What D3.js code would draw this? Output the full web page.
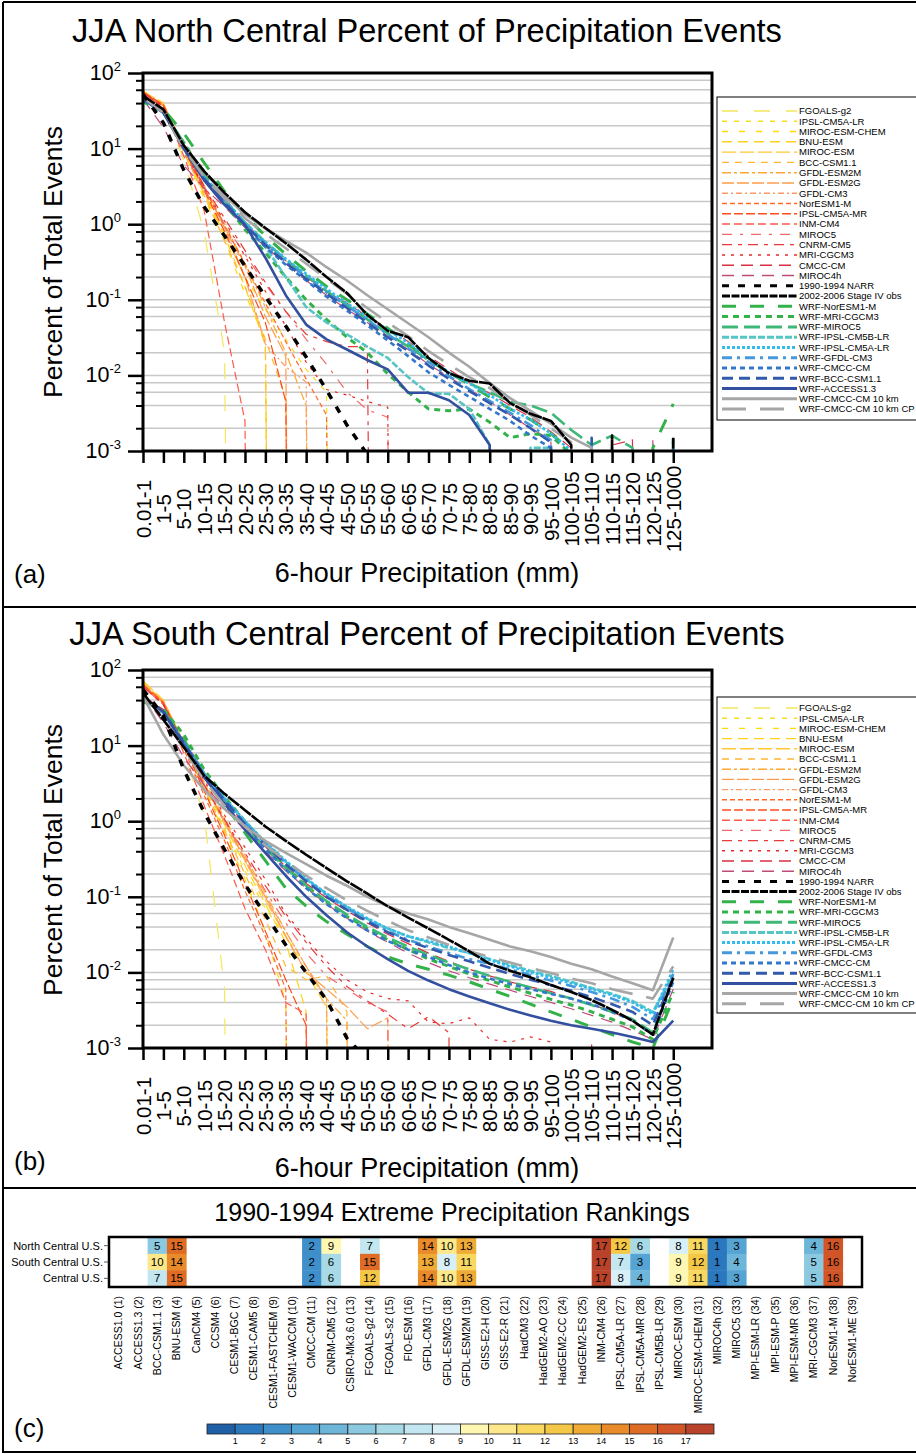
<!DOCTYPE html>
<html>
<head>
<meta charset="utf-8">
<script src="https://cdn.jsdelivr.net/npm/d3@7"></script>
<style>
  body { margin: 0; background: #fff; }
  svg { display: block; }
  svg text { font-family: "Liberation Sans", Arial, Helvetica, sans-serif; fill: #000; }
</style>
</head>
<body>
<div id="chart"></div>
<script>
// ---- categories / ticks ----
const bins = ["0.01-1","1-5","5-10","10-15","15-20","20-25","25-30","30-35","35-40","40-45",
  "45-50","50-55","55-60","60-65","65-70","70-75","75-80","80-85","85-90","90-95",
  "95-100","100-105","105-110","110-115","115-120","120-125","125-1000"];
const decades = [-3, -2, -1, 0, 1, 2];
const minorSteps = [2, 4, 6, 8];

const seriesNames = ["FGOALS-g2","IPSL-CM5A-LR","MIROC-ESM-CHEM","BNU-ESM","MIROC-ESM","BCC-CSM1.1",
  "GFDL-ESM2M","GFDL-ESM2G","GFDL-CM3","NorESM1-M","IPSL-CM5A-MR","INM-CM4","MIROC5","CNRM-CM5",
  "MRI-CGCM3","CMCC-CM","MIROC4h","1990-1994 NARR","2002-2006 Stage IV obs","WRF-NorESM1-M",
  "WRF-MRI-CGCM3","WRF-MIROC5","WRF-IPSL-CM5B-LR","WRF-IPSL-CM5A-LR","WRF-GFDL-CM3","WRF-CMCC-CM",
  "WRF-BCC-CSM1.1","WRF-ACCESS1.3","WRF-CMCC-CM 10 km","WRF-CMCC-CM 10 km CP"];

// ---- North Central (a), percent of events per bin ----
const ncGCM = [
  [50,36,7,0.8,0.02,0,0,0,0,0,0,0,0,0,0,0,0,0,0,0,0,0,0,0,0,0,0],
  [56,38,10,2.8,0.9,0.2,0.075,0.03,0.012,0.006,0,0,0,0,0,0,0,0,0,0,0,0,0,0,0,0,0],
  [58,40,9,2.2,0.6,0.12,0.03,0,0,0,0,0,0,0,0,0,0,0,0,0,0,0,0,0,0,0,0],
  [55,37,9,2.5,0.7,0.15,0.025,0,0,0,0,0,0,0,0,0,0,0,0,0,0,0,0,0,0,0,0],
  [57,40,10,2.6,0.75,0.2,0.026,0,0,0,0,0,0,0,0,0,0,0,0,0,0,0,0,0,0,0,0],
  [54,36,9,2.4,0.6,0.15,0.03,0.005,0,0,0,0,0,0,0,0,0,0,0,0,0,0,0,0,0,0,0],
  [55,38,11,3.2,1.0,0.3,0.08,0.02,0.004,0,0,0,0,0,0,0,0,0,0,0,0,0,0,0,0,0,0],
  [53,37,10,3.0,0.9,0.28,0.06,0.018,0,0,0,0,0,0,0,0,0,0,0,0,0,0,0,0,0,0,0],
  [55,38,11,3.2,0.9,0.2,0.026,0.013,0.0082,0,0,0,0,0,0,0,0,0,0,0,0,0,0,0,0,0,0],
  [55,37,10,3.0,0.95,0.3,0.09,0.028,0.009,0.003,0,0,0,0,0,0,0,0,0,0,0,0,0,0,0,0,0],
  [56,38,10,2.8,0.8,0.2,0.05,0.0045,0,0,0,0,0,0,0,0,0,0,0,0,0,0,0,0,0,0,0],
  [54,35,8,1.5,0.05,0.0025,0,0,0,0,0,0,0,0,0,0,0,0,0,0,0,0,0,0,0,0,0],
  [52,34,9,2.8,1.0,0.4,0.16,0.07,0.03,0.014,0.006,0.0035,0.0028,0,0,0,0,0,0,0,0,0,0,0,0,0,0],
  [55,36,10,3.2,1.2,0.45,0.17,0.07,0.035,0.028,0.024,0.024,0,0,0,0,0,0,0,0,0,0,0,0,0,0,0],
  [54,36,10,3.0,1.1,0.38,0.13,0.045,0.015,0.0065,0.0055,0.0045,0.0038,0,0,0,0,0,0,0,0,0,0,0,0,0,0],
  [50,32,11,4.5,2.2,1.05,0.56,0.33,0.2,0.13,0.09,0.06,0.042,0.028,0.018,0.012,0.008,0.0058,0.004,0.0028,0.0018,0.0011,0,0.0012,0.0014,0,0],
  [45,19,6,3.0,1.7,0.9,0.5,0.3,0.18,0.115,0.075,0.05,0.033,0.022,0.014,0.0095,0.0065,0.0045,0.003,0.002,0.0014,0,0,0.0011,0,0.0015,0]
];
const ncObs = [
  [52,22,5.2,1.7,0.70,0.28,0.11,0.045,0.0175,0.0064,0.0022,0.0009,0,0,0,0,0,0,0,0,0,0,0,0,0,0,0],
  [50,33,11,5.0,2.6,1.44,0.89,0.56,0.34,0.20,0.123,0.063,0.039,0.032,0.017,0.0107,0.0085,0.0078,0.0043,0.0031,0.0025,0.0012,0,0.0016,0,0,0.0015]
];
const ncWRF = [
  [44,33,16,6.5,2.7,1.3,0.7,0.4,0.24,0.15,0.1,0.065,0.042,0.026,0.016,0.011,0.0075,0.0052,0.0036,0.0026,0.0017,0.0010,0,0,0,0.0011,0.0042],
  [42,30,12,4.5,1.9,0.85,0.42,0.2,0.1,0.055,0.032,0.02,0.0105,0.006,0.0036,0.0034,0.0036,0.0024,0.0015,0.0017,0.0016,0.0009,0,0,0,0,0.0017],
  [45,31,12,4.3,2.1,1.05,0.58,0.34,0.21,0.13,0.085,0.055,0.036,0.024,0.016,0.011,0.0078,0.006,0.0045,0.004,0.0032,0.0019,0.0012,0.0016,0.0011,0,0.0013],
  [45,30,10,4.0,1.9,1.0,0.5,0.2,0.08,0.05,0.035,0.024,0.017,0.0095,0.0058,0.0057,0.0036,0.0012,0,0.0011,0.0011,0,0,0,0,0,0.0012],
  [46,31,11,4.2,2.1,1.05,0.58,0.35,0.22,0.14,0.09,0.06,0.04,0.027,0.017,0.011,0.0078,0.0055,0.0036,0.0026,0.0017,0.0010,0,0,0,0,0.0011],
  [45,30,11,4.0,2.0,1.0,0.55,0.32,0.2,0.125,0.083,0.054,0.035,0.023,0.015,0.0098,0.0066,0.0046,0.0032,0.0022,0.0014,0,0.0012,0,0,0,0],
  [44,30,11,3.9,1.9,0.95,0.5,0.29,0.18,0.11,0.072,0.046,0.029,0.018,0.011,0.0075,0.0052,0.0036,0.0025,0.0016,0.0011,0,0,0,0,0,0],
  [45,30,11,4.0,1.95,0.98,0.53,0.31,0.19,0.12,0.078,0.05,0.032,0.021,0.0135,0.009,0.0062,0.0043,0.003,0.002,0.0013,0,0.0015,0,0,0,0],
  [46,30,10,3.8,1.8,0.98,0.36,0.115,0.047,0.030,0.022,0.016,0.012,0.0059,0.0059,0.0047,0.0030,0.0012,0,0,0,0,0,0,0,0,0],
  [48,32,11,5.0,2.4,1.35,0.88,0.6,0.42,0.27,0.18,0.115,0.075,0.049,0.032,0.020,0.013,0.0079,0.0050,0.0034,0.0023,0.0015,0.0011,0,0,0,0],
  [47,30,10,4.2,2.2,1.2,0.75,0.48,0.30,0.19,0.12,0.078,0.050,0.033,0.021,0.014,0.0095,0.0068,0.0045,0.0030,0.0020,0.0013,0,0,0,0,0]
];

// ---- South Central (b) ----
const scGCM = [
  [65,38,8,1.2,0.006,0,0,0,0,0,0,0,0,0,0,0,0,0,0,0,0,0,0,0,0,0,0],
  [66,40,10,2.8,0.8,0.22,0.07,0.03,0.012,0.004,0,0,0,0,0,0,0,0,0,0,0,0,0,0,0,0,0],
  [70,40,10,2.6,0.7,0.17,0.035,0.004,0,0,0,0,0,0,0,0,0,0,0,0,0,0,0,0,0,0,0],
  [68,39,11,3.0,0.9,0.26,0.08,0.025,0.003,0,0,0,0,0,0,0,0,0,0,0,0,0,0,0,0,0,0],
  [72,40,11,3.2,1.0,0.3,0.09,0.03,0.01,0.0035,0,0,0,0,0,0,0,0,0,0,0,0,0,0,0,0,0],
  [66,38,10,2.7,0.75,0.2,0.05,0.012,0.008,0.009,0.003,0,0,0,0,0,0,0,0,0,0,0,0,0,0,0,0],
  [64,38,11,3.3,1.1,0.35,0.11,0.035,0.012,0.0045,0.0023,0,0,0,0,0,0,0,0,0,0,0,0,0,0,0,0],
  [63,37,11,3.1,1.0,0.32,0.1,0.03,0.01,0.006,0.0035,0.0018,0.0025,0,0,0,0,0,0,0,0,0,0,0,0,0,0],
  [65,38,10,3.0,0.95,0.3,0.1,0.035,0.012,0.0045,0,0,0,0,0,0,0,0,0,0,0,0,0,0,0,0,0],
  [62,36,9,2.2,0.55,0.12,0.03,0.006,0,0,0,0,0,0,0,0,0,0,0,0,0,0,0,0,0,0,0],
  [64,37,10,2.5,0.65,0.15,0.035,0.008,0.002,0,0,0,0,0,0,0,0,0,0,0,0,0,0,0,0,0,0],
  [60,35,8,1.6,0.35,0.07,0.02,0.004,0.0028,0,0,0,0,0,0,0,0,0,0,0,0,0,0,0,0,0,0],
  [62,36,10,3.0,1.0,0.35,0.12,0.045,0.018,0.009,0.006,0.004,0.003,0,0,0,0,0,0,0,0,0,0,0,0,0,0],
  [60,35,10,3.0,1.05,0.38,0.14,0.055,0.025,0.012,0.0065,0.0042,0.0028,0.0018,0.0026,0.0016,0,0,0,0,0,0,0,0,0,0,0],
  [60,35,11,3.5,1.2,0.45,0.17,0.06,0.028,0.014,0.008,0.0055,0.0045,0.0042,0.0022,0.0021,0.0025,0.0013,0.0012,0.0014,0.0012,0,0.0011,0,0,0,0],
  [45,30,12,4.4,1.9,0.9,0.46,0.25,0.15,0.097,0.065,0.045,0.032,0.024,0.018,0.014,0.011,0.009,0.0075,0.0064,0.0056,0.0045,0.0038,0.003,0.0023,0.0015,0.009],
  [48,20,7,3.0,1.5,0.75,0.4,0.22,0.13,0.08,0.052,0.035,0.025,0.018,0.0135,0.0105,0.0085,0.007,0.0058,0.0048,0.004,0.0033,0.0027,0.0022,0.0017,0.0013,0.006]
];
const scObs = [
  [55,25,4.8,1.3,0.42,0.145,0.058,0.023,0.01,0.0043,0.00135,0.0007,0,0,0,0,0,0,0,0,0,0,0,0,0,0,0],
  [50,22,9.5,4.0,2.3,1.4,0.85,0.55,0.36,0.24,0.16,0.11,0.075,0.053,0.038,0.027,0.019,0.013,0.0105,0.0086,0.0068,0.0055,0.0043,0.0032,0.0023,0.0015,0.0085]
];
const scWRF = [
  [40,29,12,4.2,1.7,0.7,0.3,0.13,0.075,0.047,0.032,0.022,0.016,0.013,0.011,0.0092,0.0075,0.006,0.0048,0.0038,0.003,0.0024,0.0019,0.0015,0.0012,0.001,0.0045],
  [38,30,14,4.8,2.1,1.0,0.5,0.25,0.14,0.085,0.055,0.038,0.027,0.02,0.015,0.012,0.0095,0.0078,0.0064,0.0053,0.0044,0.0037,0.003,0.0024,0.0019,0.0013,0.0055],
  [42,28,11,4.0,1.8,0.85,0.44,0.24,0.14,0.088,0.058,0.04,0.029,0.022,0.017,0.0135,0.011,0.009,0.0075,0.0063,0.0053,0.0045,0.0037,0.003,0.0024,0.0016,0.0085],
  [40,27,11,4.3,2.0,1.0,0.52,0.29,0.17,0.11,0.073,0.051,0.038,0.03,0.025,0.021,0.018,0.015,0.0125,0.0105,0.009,0.0075,0.0062,0.0052,0.0042,0.003,0.0095],
  [41,27,11,4.2,2.0,1.0,0.53,0.3,0.175,0.11,0.074,0.052,0.038,0.03,0.026,0.022,0.018,0.0145,0.012,0.01,0.0085,0.0072,0.006,0.005,0.004,0.0028,0.011],
  [42,28,11,4.2,1.95,0.95,0.5,0.28,0.165,0.105,0.07,0.049,0.035,0.027,0.022,0.018,0.015,0.013,0.011,0.0092,0.0078,0.0066,0.0055,0.0045,0.0035,0.0024,0.0095],
  [43,28,11,4.0,1.8,0.85,0.43,0.23,0.13,0.08,0.052,0.036,0.026,0.02,0.016,0.0125,0.01,0.0083,0.007,0.006,0.0052,0.0045,0.0038,0.003,0.0023,0.0015,0.0075],
  [43,28,11,4.1,1.9,0.92,0.48,0.27,0.16,0.1,0.067,0.047,0.034,0.026,0.021,0.017,0.014,0.0115,0.0095,0.008,0.0068,0.0057,0.0047,0.0038,0.003,0.002,0.0085],
  [44,28,10,3.8,1.7,0.78,0.38,0.19,0.1,0.057,0.034,0.022,0.015,0.0105,0.0078,0.006,0.0048,0.0039,0.0032,0.0027,0.0023,0.002,0.0018,0.0016,0.0014,0.0012,0.0023],
  [45,14,5.5,2.6,1.45,0.85,0.55,0.38,0.27,0.19,0.14,0.1,0.075,0.06,0.05,0.04,0.033,0.027,0.022,0.019,0.016,0.013,0.011,0.0088,0.0072,0.0058,0.029],
  [45,24,9,3.5,1.6,0.85,0.48,0.3,0.19,0.13,0.09,0.065,0.048,0.036,0.029,0.023,0.019,0.016,0.0135,0.0115,0.0098,0.0083,0.0072,0.006,0.0052,0.0045,0.012]
];

// ---- rankings (c) ----
const rankModels = ["ACCESS1.0 (1)","ACCESS1.3 (2)","BCC-CSM1.1 (3)","BNU-ESM (4)","CanCM4 (5)","CCSM4 (6)",
  "CESM1-BGC (7)","CESM1-CAM5 (8)","CESM1-FASTCHEM (9)","CESM1-WACCM (10)","CMCC-CM (11)","CNRM-CM5 (12)",
  "CSIRO-Mk3.6.0 (13)","FGOALS-g2 (14)","FGOALS-s2 (15)","FIO-ESM (16)","GFDL-CM3 (17)","GFDL-ESM2G (18)",
  "GFDL-ESM2M (19)","GISS-E2-H (20)","GISS-E2-R (21)","HadCM3 (22)","HadGEM2-AO (23)","HadGEM2-CC (24)",
  "HadGEM2-ES (25)","INM-CM4 (26)","IPSL-CM5A-LR (27)","IPSL-CM5A-MR (28)","IPSL-CM5B-LR (29)","MIROC-ESM (30)",
  "MIROC-ESM-CHEM (31)","MIROC4h (32)","MIROC5 (33)","MPI-ESM-LR (34)","MPI-ESM-P (35)","MPI-ESM-MR (36)",
  "MRI-CGCM3 (37)","NorESM1-M (38)","NorESM1-ME (39)"];
const regions = ["North Central U.S.", "South Central U.S.", "Central U.S."];
const rankNC = [null,null,5,15,null,null,null,null,null,null,2,9,null,7,null,null,14,10,13,null,null,null,null,null,null,17,12,6,null,8,11,1,3,null,null,null,4,16,null];
const rankSC = [null,null,10,14,null,null,null,null,null,null,2,6,null,15,null,null,13,8,11,null,null,null,null,null,null,17,7,3,null,9,12,1,4,null,null,null,5,16,null];
const rankC  = [null,null,7,15,null,null,null,null,null,null,2,6,null,12,null,null,14,10,13,null,null,null,null,null,null,17,8,4,null,9,11,1,3,null,null,null,5,16,null];
const rankLevels = [1,2,3,4,5,6,7,8,9,10,11,12,13,14,15,16,17];
const rankColors = ["#1f5fa6","#2b78be","#3f8fca","#56a4d3","#6db6da","#8ac9e0","#a7dae6","#c3e7f0","#d8eff8",
  "#fdf7b2","#fce88a","#f9d862","#f5c746","#f0ab36","#e98b2a","#df6c25","#d15527","#b8432a"];

// ---- line styles (legend order) ----
const seriesColors = ["#f2e85a","#f3e01c","#ffdb00","#ffd21a","#ffc733","#ffb733","#ffa733","#ff9d4a","#ff9966",
  "#ff6a2a","#ff4d1a","#ff5a4a","#f06a6a","#e83a3a","#e82a2a","#d83040","#c04a78","#000000","#000000",
  "#33b24a","#33b24a","#3db877","#55c5c5","#33bbee","#4499dd","#3377cc","#3359aa","#334f9f","#a6a6a6","#a6a6a6"];
const seriesDash = ["16,16","5,7","6,11","10,6","14,4","7,6","9,3,3,3","12,3","6,3,2,3","5,3","9,3","8,4",
  "10,8,3,8","10,6,4,6","3,6","12,7","12,8","7,9","14,1","14,14","6,5","16,6","7,2","3,2","10,5,3,5",
  "5,4","11,6",null,null,"24,14"];
const seriesWidth = [1.2,1.2,1.2,1.2,1.2,1.2,1.2,1.2,1.2,1.2,1.2,1.2,1.2,1.2,1.2,1.2,1.2,3.5,2.6,
  3,3,2.6,2.6,2.6,2.6,2.6,2.6,2.6,2.6,2.6];
const drawOrder = [0,1,2,3,4,5,6,7,8,9,10,11,12,13,14,15,16,19,20,21,22,23,24,25,26,27,28,29,17,18];

const W = 916, H = 1454;
const svg = d3.select("#chart").append("svg").attr("width", W).attr("height", H);

// figure borders
const borders = svg.append("g").attr("stroke", "#000").attr("stroke-width", 2);
borders.append("line").attr("x1", 3).attr("x2", 3).attr("y1", 2).attr("y2", 1453);
borders.append("line").attr("x1", 3).attr("x2", W).attr("y1", 2).attr("y2", 2);
borders.append("line").attr("x1", 3).attr("x2", W).attr("y1", 607).attr("y2", 607);
borders.append("line").attr("x1", 3).attr("x2", W).attr("y1", 1188).attr("y2", 1188);
borders.append("line").attr("x1", 3).attr("x2", W).attr("y1", 1452).attr("y2", 1452);

function drawPanel(p) {
  const x = d3.scaleLinear().domain([0, 27.9]).range([143, 712]);
  const y = d3.scaleLog().domain([1e-3, 1e2]).range([p.bottom, p.top]);
  const g = svg.append("g");

  g.append("text").attr("x", 427).attr("y", p.titleY).attr("text-anchor", "middle")
    .attr("font-size", 32.6).text(p.title);

  // grid at 1,2,4,6,8 of each decade
  const gridVals = [];
  decades.forEach(e => {
    gridVals.push(Math.pow(10, e));
    if (e < 2) minorSteps.forEach(m => gridVals.push(m * Math.pow(10, e)));
  });
  g.append("g").selectAll("line").data(gridVals).join("line")
    .attr("x1", 143).attr("x2", 712)
    .attr("y1", d => y(d)).attr("y2", d => y(d))
    .attr("stroke", "#c8c8c8").attr("stroke-width", 1.5);

  // series
  g.append("clipPath").attr("id", p.id + "-clip").append("rect")
    .attr("x", 143).attr("y", p.top).attr("width", 569).attr("height", p.bottom - p.top);
  const line = d3.line().x((d, i) => x(i)).y(d => y(d > 0 ? d : 1e-30));
  g.append("g").attr("clip-path", `url(#${p.id}-clip)`)
    .selectAll("path").data(drawOrder).join("path")
    .attr("d", k => line(p.series[k]))
    .attr("fill", "none")
    .attr("stroke", k => seriesColors[k])
    .attr("stroke-width", k => seriesWidth[k])
    .attr("stroke-dasharray", k => seriesDash[k])
    .attr("stroke-linejoin", "round");

  // x axis
  g.append("g").attr("transform", `translate(0,${p.bottom})`)
    .call(d3.axisBottom(x).tickValues(d3.range(bins.length)).tickFormat(i => bins[i]).tickSize(12).tickSizeOuter(0))
    .call(a => a.select(".domain").remove())
    .call(a => a.selectAll("line").attr("stroke", "#000").attr("stroke-width", 2.5))
    .call(a => a.selectAll("text").attr("font-size", 20.5).attr("text-anchor", "middle")
      .attr("x", 0).attr("y", 0).attr("dy", "0.35em").attr("transform", "translate(0,58) rotate(-90)"));

  // y axis ticks (major + minor)
  const majors = decades.map(e => Math.pow(10, e));
  const minors = gridVals.filter(v => !majors.includes(v));
  g.append("g").attr("transform", "translate(143,0)")
    .call(d3.axisLeft(y).tickValues(majors).tickSize(15).tickFormat(""))
    .call(a => a.select(".domain").remove())
    .call(a => a.selectAll("line").attr("stroke", "#000").attr("stroke-width", 2.5));
  g.append("g").attr("transform", "translate(143,0)")
    .call(d3.axisLeft(y).tickValues(minors).tickSize(7).tickFormat(""))
    .call(a => a.select(".domain").remove())
    .call(a => a.selectAll("line").attr("stroke", "#000").attr("stroke-width", 2));

  const yl = g.append("g").selectAll("text").data(decades).join("text")
    .attr("x", 121).attr("y", e => y(Math.pow(10, e)) + 7).attr("text-anchor", "end");
  yl.append("tspan").attr("font-size", 21.5).text("10");
  yl.append("tspan").attr("font-size", 13).attr("dy", -9).text(e => e);

  // frame
  g.append("rect").attr("x", 143).attr("y", p.top).attr("width", 569).attr("height", p.bottom - p.top)
    .attr("fill", "none").attr("stroke", "#000").attr("stroke-width", 3);

  g.append("text").attr("transform", `translate(62,${p.yTitleY}) rotate(-90)`)
    .attr("text-anchor", "middle").attr("font-size", 26.5).text("Percent of Total Events");
  g.append("text").attr("x", 427).attr("y", p.xTitleY).attr("text-anchor", "middle")
    .attr("font-size", 27).text("6-hour Precipitation (mm)");
  g.append("text").attr("x", 14).attr("y", p.tagY).attr("font-size", 26).text(p.tag);

  // legend
  const lg = g.append("g");
  lg.append("rect").attr("x", 717).attr("y", p.legTop).attr("width", 220).attr("height", p.legBottom - p.legTop)
    .attr("fill", "#fff").attr("stroke", "#000").attr("stroke-width", 1);
  const rows = lg.selectAll("g").data(seriesNames).join("g")
    .attr("transform", (d, i) => `translate(0,${p.legRow0 + i * p.legStep})`);
  rows.append("line").attr("x1", 722).attr("x2", 797)
    .attr("stroke", (d, i) => seriesColors[i])
    .attr("stroke-width", (d, i) => Math.min(seriesWidth[i] * 1.2, 3))
    .attr("stroke-dasharray", (d, i) => i === 18 ? "8,1.5" : seriesDash[i]);
  rows.append("text").attr("x", 799).attr("dy", "0.35em").attr("font-size", 9.5).text(d => d);
}

drawPanel({
  id: "nc", tag: "(a)", title: "JJA North Central Percent of Precipitation Events",
  top: 73, bottom: 451, titleY: 42, xTitleY: 582, yTitleY: 262, tagY: 583,
  legTop: 97, legBottom: 420, legRow0: 111, legStep: 10.28,
  series: ncGCM.concat(ncObs, ncWRF)
});
drawPanel({
  id: "sc", tag: "(b)", title: "JJA South Central Percent of Precipitation Events",
  top: 670, bottom: 1048, titleY: 645, xTitleY: 1177, yTitleY: 860, tagY: 1170,
  legTop: 697, legBottom: 1013, legRow0: 708, legStep: 10.2,
  series: scGCM.concat(scObs, scWRF)
});

// ---- panel (c): ranking table ----
const rankRows = [rankNC, rankSC, rankC];
const cx = d3.scaleBand().domain(d3.range(rankModels.length)).range([109, 862]);
const cy = d3.scaleBand().domain(d3.range(regions.length)).range([1237.5, 1286.5]);
const rankColor = d3.scaleThreshold().domain(rankLevels).range(rankColors);
const hc = svg.append("g");

hc.append("text").attr("x", 452).attr("y", 1221).attr("text-anchor", "middle")
  .attr("font-size", 25).text("1990-1994 Extreme Precipitation Rankings");

const cells = [];
rankRows.forEach((row, r) => row.forEach((v, c) => { if (v != null) cells.push({ r, c, v }); }));
hc.append("g").selectAll("rect").data(cells).join("rect")
  .attr("x", d => cx(d.c)).attr("y", d => cy(d.r))
  .attr("width", cx.bandwidth() + 0.4).attr("height", cy.bandwidth() + 0.4)
  .attr("fill", d => rankColor(d.v));
hc.append("g").selectAll("text").data(cells).join("text")
  .attr("x", d => cx(d.c) + cx.bandwidth() / 2).attr("y", d => cy(d.r) + cy.bandwidth() / 2)
  .attr("dy", "0.36em").attr("text-anchor", "middle").attr("font-size", 11.5).attr("fill", "#222")
  .text(d => d.v);
hc.append("rect").attr("x", 109).attr("y", 1237).attr("width", 753).attr("height", 50)
  .attr("fill", "none").attr("stroke", "#000").attr("stroke-width", 2.5);

hc.append("g").selectAll("text").data(regions).join("text")
  .attr("x", 103).attr("y", (d, i) => cy(i) + cy.bandwidth() / 2).attr("dy", "0.35em")
  .attr("text-anchor", "end").attr("font-size", 11).attr("fill", "#333").text(d => d);
hc.append("g").selectAll("line").data(regions).join("line")
  .attr("x1", 104).attr("x2", 109)
  .attr("y1", (d, i) => cy(i) + cy.bandwidth() / 2).attr("y2", (d, i) => cy(i) + cy.bandwidth() / 2)
  .attr("stroke", "#333").attr("stroke-width", 0.8);

hc.append("g").selectAll("text").data(rankModels).join("text")
  .attr("transform", (d, i) => `translate(${cx(i) + cx.bandwidth() / 2},1296) rotate(-90)`)
  .attr("text-anchor", "end").attr("dy", "0.35em").attr("font-size", 10.5).attr("fill", "#222")
  .text(d => d);

hc.append("text").attr("x", 14).attr("y", 1437).attr("font-size", 26).text("(c)");

// colour bar
const bx = d3.scaleLinear().domain([0, rankColors.length]).range([207, 714]);
hc.append("g").selectAll("rect").data(rankColors).join("rect")
  .attr("x", (d, i) => bx(i)).attr("y", 1424).attr("width", bx(1) - bx(0)).attr("height", 10)
  .attr("fill", d => d).attr("stroke", "#222").attr("stroke-width", 0.8);
hc.append("g").selectAll("text").data(rankLevels).join("text")
  .attr("x", d => bx(d)).attr("y", 1444).attr("text-anchor", "middle")
  .attr("font-size", 9).attr("fill", "#222").text(d => d);
</script>
</body>
</html>
